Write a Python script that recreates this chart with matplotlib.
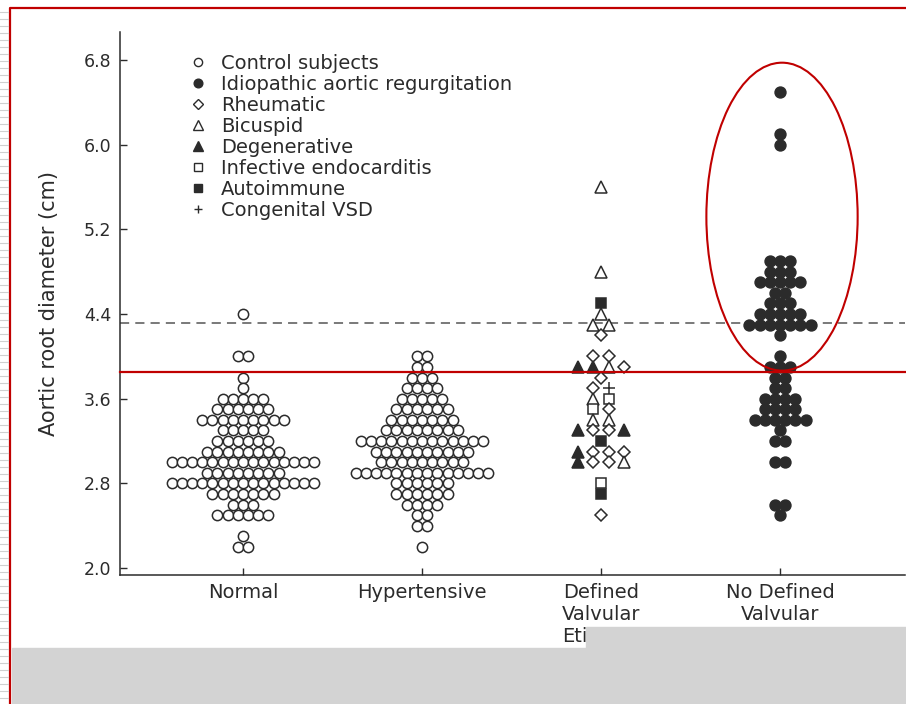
import matplotlib
matplotlib.use("Agg")
import numpy as np
from matplotlib import pyplot as plt
from matplotlib.lines import Line2D
from matplotlib.patches import Ellipse, Rectangle

# group names on the x axis
groups = ["Normal", "Hypertensive", "Defined\nValvular\nEtiology", "No Defined\nValvular\nEtiology"]

# dot plot rows: value (cm) and number of dots in that row
normal_vals = [4.4, 4.0, 3.8, 3.7, 3.6, 3.5, 3.4, 3.3, 3.2, 3.1, 3.0, 2.9, 2.8, 2.7, 2.6, 2.5, 2.3, 2.2]
normal_cnt = [1, 2, 1, 1, 5, 6, 9, 5, 6, 8, 15, 8, 15, 7, 3, 6, 1, 2]

hyper_vals = [4.0, 3.9, 3.8, 3.7, 3.6, 3.5, 3.4, 3.3, 3.2, 3.1, 3.0, 2.9, 2.8, 2.7, 2.6, 2.5, 2.4, 2.2]
hyper_cnt = [2, 2, 3, 4, 5, 6, 7, 8, 13, 10, 9, 14, 6, 6, 4, 2, 2, 1]

nodef_vals = [6.5, 6.1, 6.0, 4.9, 4.8, 4.7, 4.6, 4.5, 4.4, 4.3, 4.2, 4.0, 3.9, 3.8, 3.7,
              3.6, 3.5, 3.4, 3.3, 3.2, 3.0, 2.6, 2.5]
nodef_cnt = [1, 1, 1, 3, 3, 5, 2, 3, 5, 7, 1, 1, 3, 2, 2, 4, 4, 6, 1, 2, 2, 2, 1]

# defined valvular etiology: each row left to right, by etiology
dv_vals = [5.6, 4.8, 4.5, 4.4, 4.3, 4.2, 4.0, 3.9, 3.8, 3.7, 3.6, 3.5, 3.4, 3.3, 3.2,
           3.1, 3.0, 2.8, 2.7, 2.5]
dv_kinds = [
    ["bic"], ["bic"], ["auto"], ["bic"], ["bic", "bic"], ["rheu"], ["rheu", "rheu"],
    ["deg", "deg", "bic", "rheu"], ["rheu"], ["rheu", "vsd"], ["bic", "inf"],
    ["inf", "rheu"], ["bic", "bic"], ["deg", "rheu", "rheu", "deg"], ["auto"],
    ["deg", "rheu", "rheu", "rheu"], ["deg", "rheu", "rheu", "bic"], ["inf"], ["auto"], ["rheu"],
]

legend_labels = ["Control subjects", "Idiopathic aortic regurgitation", "Rheumatic", "Bicuspid",
                 "Degenerative", "Infective endocarditis", "Autoimmune", "Congenital VSD"]
legend_kinds = ["ctrl", "idio", "rheu", "bic", "deg", "inf", "auto", "vsd"]

cut_off = 4.315  # dashed line
red_line = 3.85

ink = "#2b2b2b"
red = "#c00000"
# marker, filled?, size
styles = {
    "ctrl": ("o", False, 7.4),
    "idio": ("o", True, 7.8),
    "rheu": ("D", False, 6.6),
    "bic": ("^", False, 8.2),
    "deg": ("^", True, 8.2),
    "inf": ("s", False, 7.0),
    "auto": ("s", True, 7.0),
    "vsd": ("+", False, 8.0),
}


def draw(ax, x, y, kind):
    m, filled, ms = styles[kind]
    ax.plot(x, y, ls="none", marker=m, ms=ms, mec=ink, mew=1.1,
            mfc=ink if filled else "white", zorder=3)


def row_offsets(n, dx):
    return (np.arange(n) - (n - 1) / 2) * dx


fig = plt.figure(figsize=(9.06, 7.04), dpi=100)
ax = fig.add_axes([120 / 906, 129 / 704, 785 / 906, 543 / 704])

dx_dot = 0.057
for pos, vals, cnt, kind in [(0, normal_vals, normal_cnt, "ctrl"),
                             (1, hyper_vals, hyper_cnt, "ctrl"),
                             (3, nodef_vals, nodef_cnt, "idio")]:
    for v, n in zip(vals, cnt):
        draw(ax, pos + row_offsets(n, dx_dot), np.full(n, v), kind)

dx_dv = 0.085
for v, kinds in zip(dv_vals, dv_kinds):
    offs = row_offsets(len(kinds), dx_dv)
    for o, k in zip(offs, kinds):
        draw(ax, [2 + o], [v], k)

ax.axhline(cut_off, color="#555555", lw=1.1, dashes=(6, 4), zorder=2)

ax.set_xlim(-0.687, 3.698)
ax.set_ylim(1.934, 7.065)
ax.set_yticks([2.0, 2.8, 3.6, 4.4, 5.2, 6.0, 6.8])
ax.set_yticklabels(["2.0", "2.8", "3.6", "4.4", "5.2", "6.0", "6.8"])
ax.set_xticks(range(4))
ax.set_xticklabels(groups, fontsize=14, color=ink, linespacing=1.2, va="top")
ax.tick_params(axis="y", direction="in", length=5, width=1, colors=ink, labelsize=12.5, pad=6)
ax.tick_params(axis="x", direction="in", length=5, width=1, colors=ink, pad=6)
for s in ["top", "right"]:
    ax.spines[s].set_visible(False)
for s in ["left", "bottom"]:
    ax.spines[s].set_color(ink)
    ax.spines[s].set_linewidth(1.1)
ax.set_ylabel("Aortic root diameter (cm)", fontsize=15, color=ink, labelpad=18)

handles = []
for k, lab in zip(legend_kinds, legend_labels):
    m, filled, ms = styles[k]
    handles.append(Line2D([], [], ls="none", marker=m, ms=ms * 0.8, mec=ink, mew=1.0,
                          mfc=ink if filled else "white", label=lab))
leg = ax.legend(handles=handles, loc="upper left", bbox_to_anchor=(190 / 906, 1 - 54 / 704),
                bbox_transform=fig.transFigure, frameon=False, fontsize=14, handlelength=0.8,
                handletextpad=0.8, labelspacing=0.1, borderpad=0, borderaxespad=0)
for t in leg.get_texts():
    t.set_color(ink)

# red annotations drawn on top of the scan
ax.axhline(red_line, color=red, lw=1.6, zorder=6, clip_on=False)
ax.add_patch(Ellipse((3.011, 5.32), 0.845, 2.91, fill=False, ec=red, lw=1.5, zorder=6))

# frame, margin and grey box
fig.add_artist(Line2D([10 / 906, 10 / 906, 1], [0, 1 - 8 / 704, 1 - 8 / 704], color=red, lw=1.6))
for yy in np.arange(12, 704, 7):
    fig.add_artist(Line2D([0, 8 / 906], [1 - yy / 704] * 2, color="#d0d0d0", lw=0.8))
fig.add_artist(Rectangle((12 / 906, 0), 1, 56 / 704, transform=fig.transFigure,
                         color="#d3d3d3", zorder=10))
fig.add_artist(Rectangle((586 / 906, 0), 1, 77 / 704, transform=fig.transFigure,
                         color="#d3d3d3", zorder=10))

fig.savefig("out.png", dpi=100)
